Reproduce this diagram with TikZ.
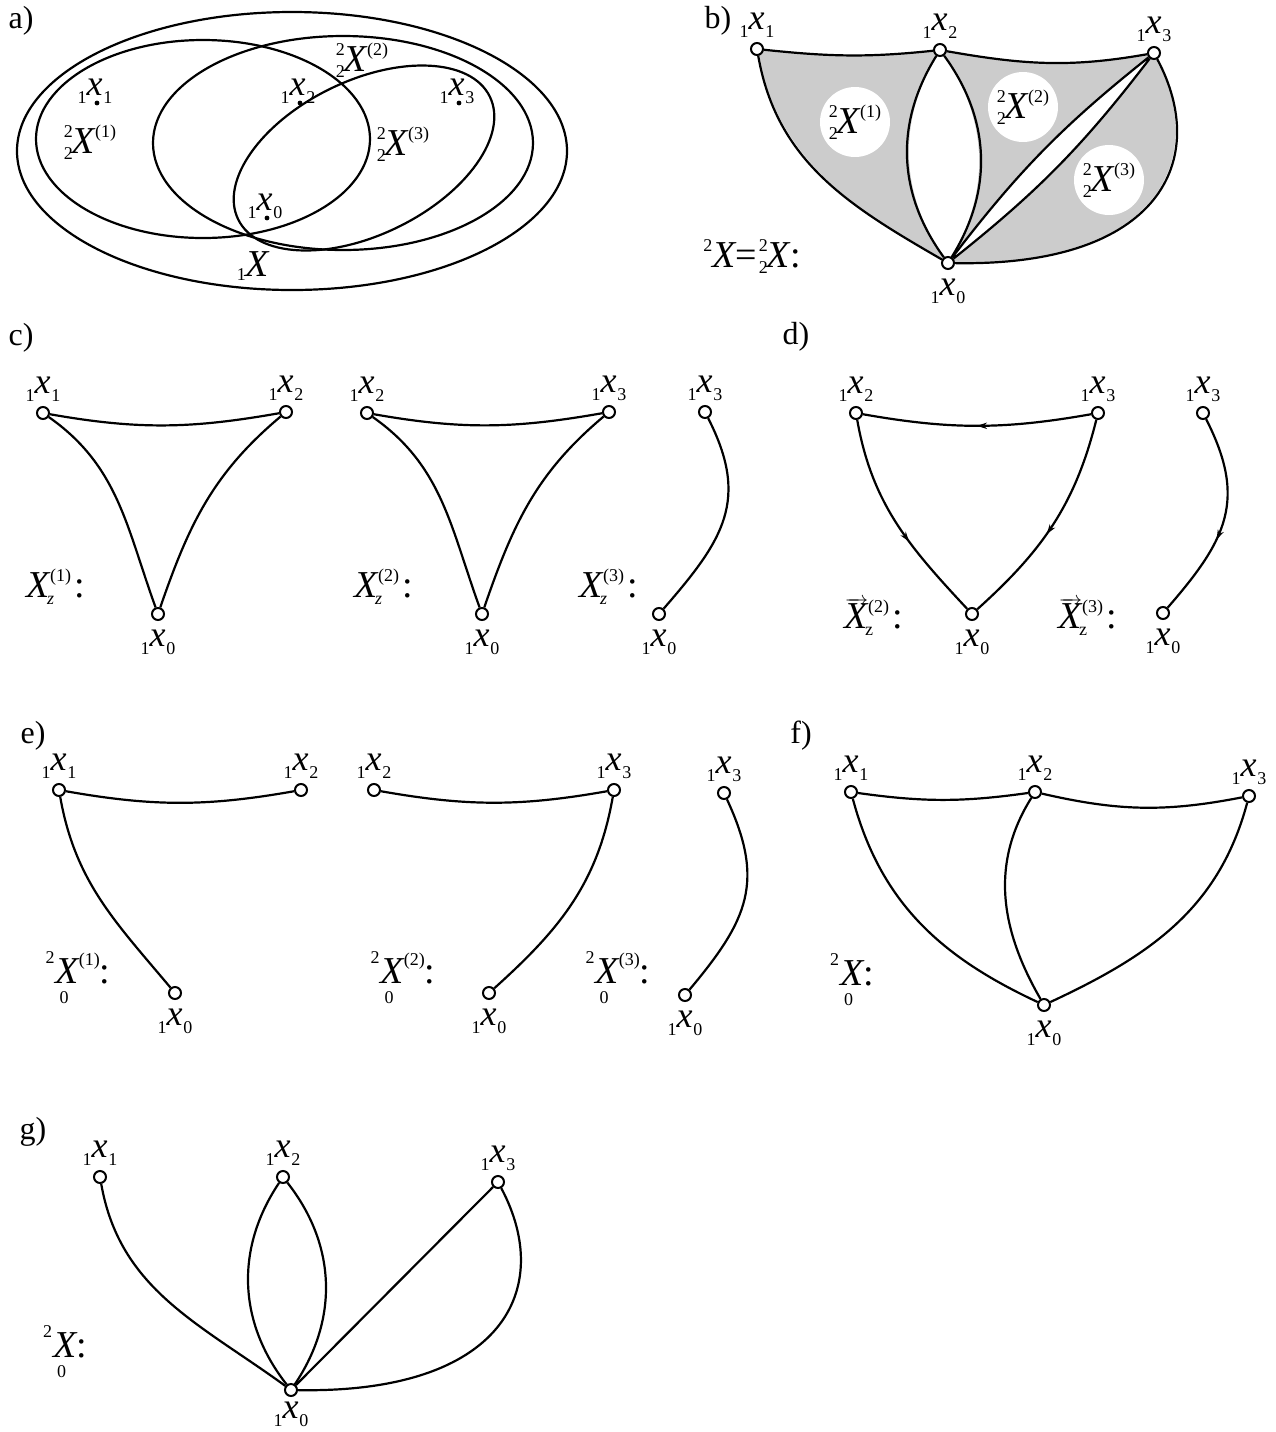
\documentclass[tikz,border=0pt]{standalone}
\usepackage{fontspec}
\setmainfont{Liberation Serif}
\usetikzlibrary{positioning, arrows.meta, decorations.markings}

% small digits, big X, colon
\newcommand{\dg}[1]{{\fontsize{9}{9}\selectfont #1}}
\newcommand{\bX}{{\fontsize{19}{19}\selectfont\itshape X}}
\newcommand{\cln}{{\fontsize{19}{19}\selectfont :}}
% vertex name  _1x_i
\newcommand{\vx}[1]{\raisebox{-4pt}{\dg{1}}{\fontsize{18}{18}\selectfont\itshape x}\kern0.3pt\raisebox{-4pt}{\dg{#1}}}
% scripts stacked left / right of a letter
\newcommand{\prescr}[2]{\ooalign{\raisebox{8pt}{\dg{#1}}\cr\raisebox{-3pt}{\dg{#2}}\cr}}
\newcommand{\postscr}[2]{\ooalign{\raisebox{8pt}{\dg{#1}}\cr\kern-1.5pt\raisebox{-3.5pt}{\dg{#2}}\cr}}
\newcommand{\Xpp}[1]{\prescr{2}{2}\kern-0.5pt\bX\raisebox{8pt}{\dg{(#1)}}}
\newcommand{\Xo}{\ooalign{\bX\cr\kern2pt\raisebox{-10pt}{\dg{0}}\cr}}

\begin{document}
\begin{tikzpicture}[x=0.5pt, y=0.5pt,
    vtx/.style={circle, draw, fill=white, line width=1pt, inner sep=0pt, minimum size=6pt},
    spot/.style={circle, fill, inner sep=0pt, minimum size=2.4pt},
    link/.style={line width=1.1pt},
    ring/.style={line width=1.1pt},
    lbl/.style={inner sep=0pt},
    tag/.style={inner sep=0pt, font=\fontsize{16}{16}\selectfont},
    blob/.style={circle, fill=white, inner sep=0pt, minimum size=35pt},
    arr/.style={postaction={decorate}, decoration={markings,
        mark=at position #1 with {\arrow{Stealth[length=5pt, width=3.2pt]}}}}]
    \useasboundingbox (0,0) rectangle (1276,-1432);

    % --- a) ---
    \node[tag] (ta) at (21,-21) {a)};
    \draw[ring] (292,-151) ellipse [x radius=275, y radius=139];
    \draw[ring] (203,-139) ellipse [x radius=167, y radius=99];
    \draw[ring] (343,-143) ellipse [x radius=190, y radius=107];
    \draw[ring, rotate around={26:(364,-158)}] (364,-158) ellipse [x radius=140, y radius=77];
    \node[spot] (a1) at (97,-103) {};
    \node[spot] (a2) at (300,-103) {};
    \node[spot] (a3) at (459,-103) {};
    \node[spot] (a0) at (267,-218) {};
    \node[lbl, anchor=base] (a1l) at (95,-95) {\vx{1}};
    \node[lbl, anchor=base] (a2l) at (298,-95) {\vx{2}};
    \node[lbl, anchor=base] (a3l) at (457,-95) {\vx{3}};
    \node[lbl, anchor=base] (a0l) at (265,-210) {\vx{0}};
    \node[lbl] (aX1) at (90,-142) {\Xpp{1}};
    \node[lbl] (aX2) at (362,-60) {\Xpp{2}};
    \node[lbl] (aX3) at (403,-144) {\Xpp{3}};
    \node[lbl] (aX) at (253,-266) {\raisebox{-2pt}{\dg{1}}\bX};

    % --- b) ---
    \node[tag] (tb) at (718,-21) {b)};
    \coordinate (p1) at (757,-49);
    \coordinate (p2) at (940,-50);
    \coordinate (p3) at (1154,-53);
    \coordinate (p0) at (948,-263);
    \fill[gray!40] (p1) to[out=-6, in=186] (p2) to[out=-10, in=190] (p3)
        .. controls +(-62:121) and +(-1:212) .. (p0) to[out=150, in=-80] (p1) -- cycle;
    \fill[white] (p2) to[bend left=34] (p0) to[bend left=34] (p2);
    \fill[white] (p3) to[bend left=7] (p0) to[bend left=7] (p3);
    \node[blob] (w1) at (855,-122) {\Xpp{1}};
    \node[blob] (w2) at (1023,-107) {\Xpp{2}};
    \node[blob] (w3) at (1109,-180) {\Xpp{3}};
    \node[vtx] (b1) at (p1) {};
    \node[vtx] (b2) at (p2) {};
    \node[vtx] (b3) at (p3) {};
    \node[vtx] (b0) at (p0) {};
    \draw[link] (b1) to[out=-6, in=186] (b2) to[out=-10, in=190] (b3);
    \draw[link] (b1) to[out=-80, in=150] (b0);
    \draw[link] (b2) to[bend right=34] (b0) (b2) to[bend left=34] (b0);
    \draw[link] (b3) to[bend right=7] (b0) (b3) to[bend left=7] (b0);
    \draw[link] (b3) .. controls +(-62:121) and +(-1:212) .. (b0);
    \node[lbl] (beq) at (752,-257) {\raisebox{8pt}{\dg{2}}\bX{\fontsize{19}{19}\selectfont =}\kern1pt\prescr{2}{2}\kern-0.5pt\bX\cln};

    % --- c) ---
    \node[tag] (tc) at (21,-338) {c)};
    \node[vtx] (c11) at (43,-413) {};
    \node[vtx] (c12) at (286,-412) {};
    \node[vtx] (c10) at (158,-614) {};
    \draw[link] (c11) to[out=-10, in=190] (c12);
    \draw[link] (c11) to[out=-35, in=110] (c10);
    \draw[link] (c12) to[out=220, in=71] (c10);
    \node[vtx] (c22) at (367,-413) {};
    \node[vtx] (c23) at (609,-412) {};
    \node[vtx] (c20) at (482,-614) {};
    \draw[link] (c22) to[out=-10, in=190] (c23);
    \draw[link] (c22) to[out=-35, in=110] (c20);
    \draw[link] (c23) to[out=220, in=71] (c20);
    \node[vtx] (c33) at (705,-412) {};
    \node[vtx] (c30) at (659,-614) {};
    \draw[link] (c33) to[out=-63, in=49, looseness=1.2] (c30);
    \node[lbl] (cX1) at (56,-587) {\bX\postscr{(1)}{\itshape z}\,\cln};
    \node[lbl] (cX2) at (384,-587) {\bX\postscr{(2)}{\itshape z}\,\cln};
    \node[lbl] (cX3) at (609,-587) {\bX\postscr{(3)}{\itshape z}\,\cln};

    % --- d) ---
    \node[tag] (td) at (796,-337) {d)};
    \node[vtx] (d2) at (856,-413) {};
    \node[vtx] (d3) at (1098,-413) {};
    \node[vtx] (d0) at (972,-614) {};
    \draw[link, arr=0.5] (d3) to[out=190, in=-10] (d2);
    \draw[link, arr=0.6] (d2) to[out=-80, in=133] (d0);
    \draw[link, arr=0.55] (d3) to[out=-104, in=42] (d0);
    \node[vtx] (d33) at (1203,-413) {};
    \node[vtx] (d30) at (1163,-613) {};
    \draw[link, arr=0.6] (d33) to[out=-63, in=49, looseness=1.2] (d30);
    \node[lbl] (dX2) at (874,-617) {$\overrightarrow{\hbox{\bX}}$\postscr{(2)}{z}\,\cln};
    \node[lbl] (dX3) at (1088,-617) {$\overrightarrow{\hbox{\bX}}$\postscr{(3)}{z}\,\cln};

    % --- e) ---
    \node[tag] (te) at (33,-736) {e)};
    \node[vtx] (e11) at (59,-790) {};
    \node[vtx] (e12) at (301,-790) {};
    \node[vtx] (e10) at (175,-993) {};
    \draw[link] (e11) to[out=-10, in=190] (e12);
    \draw[link] (e11) to[out=-80, in=130] (e10);
    \node[vtx] (e22) at (374,-790) {};
    \node[vtx] (e23) at (614,-790) {};
    \node[vtx] (e20) at (489,-993) {};
    \draw[link] (e22) to[out=-10, in=190] (e23);
    \draw[link] (e23) to[out=-100, in=42] (e20);
    \node[vtx] (e33) at (724,-793) {};
    \node[vtx] (e30) at (685,-995) {};
    \draw[link] (e33) to[out=-65, in=50, looseness=1.2] (e30);
    \node[lbl] (eX1) at (78,-978) {\raisebox{10pt}{\dg{2}}\kern0.5pt\Xo\raisebox{9pt}{\dg{(1)}}\cln};
    \node[lbl] (eX2) at (403,-978) {\raisebox{10pt}{\dg{2}}\kern0.5pt\Xo\raisebox{9pt}{\dg{(2)}}\cln};
    \node[lbl] (eX3) at (618,-978) {\raisebox{10pt}{\dg{2}}\kern0.5pt\Xo\raisebox{9pt}{\dg{(3)}}\cln};

    % --- f) ---
    \node[tag] (tf) at (801,-736) {f)};
    \node[vtx] (f1) at (851,-792) {};
    \node[vtx] (f2) at (1035,-792) {};
    \node[vtx] (f3) at (1249,-796) {};
    \node[vtx] (f0) at (1044,-1005) {};
    \draw[link] (f1) to[out=-8, in=188] (f2) to[out=-13, in=191] (f3);
    \draw[link] (f1) to[out=-75, in=155] (f0);
    \draw[link] (f2) to[out=-122, in=120] (f0);
    \draw[link] (f3) to[out=-105, in=25] (f0);
    \node[lbl] (fX) at (852,-980) {\raisebox{10pt}{\dg{2}}\kern0.5pt\Xo\cln};

    % --- g) ---
    \node[tag] (tg) at (33,-1132) {g)};
    \node[vtx] (g1) at (100,-1177) {};
    \node[vtx] (g2) at (283,-1177) {};
    \node[vtx] (g3) at (498,-1182) {};
    \node[vtx] (g0) at (291,-1390) {};
    \draw[link] (g1) to[out=-80, in=144] (g0);
    \draw[link] (g2) to[bend right=36] (g0) (g2) to[bend left=36] (g0);
    \draw[link] (g3) -- (g0);
    \draw[link] (g3) .. controls +(-62:121) and +(-1:212) .. (g0);
    \node[lbl] (gX) at (65,-1352) {\raisebox{10pt}{\dg{2}}\kern0.5pt\Xo\cln};

    % vertex names
    \foreach \n/\i in {b1/1, b2/2, b3/3, c11/1, c12/2, c22/2, c23/3, c33/3, d2/2, d3/3, d33/3,
        e11/1, e12/2, e22/2, e23/3, e33/3, f1/1, f2/2, f3/3, g1/1, g2/2, g3/3}
        \node[lbl, above=2pt of \n] (\n l) {\vx{\i}};
    \foreach \n in {b0, c10, c20, c30, d0, d30, e10, e20, e30, f0}
        \node[lbl, below=4.5pt of \n] (\n l) {\vx{0}};
    \node[lbl, below=2.5pt of g0] (g0l) {\vx{0}};
\end{tikzpicture}
\end{document}
